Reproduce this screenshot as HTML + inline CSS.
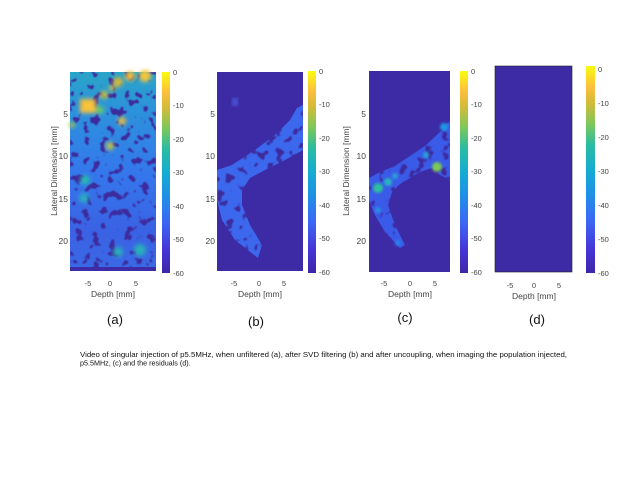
<!DOCTYPE html>
<html><head><meta charset="utf-8"><style>
html,body{margin:0;padding:0;background:#fff;}
svg{display:block;font-family:"Liberation Sans",sans-serif;}
</style></head><body>
<svg width="640" height="480" viewBox="0 0 640 480" xmlns="http://www.w3.org/2000/svg">
<defs>
<linearGradient id="parula" x1="0" y1="1" x2="0" y2="0">
<stop offset="0" stop-color="#3e26a8"/>
<stop offset="0.12" stop-color="#4537d8"/>
<stop offset="0.25" stop-color="#3c66f5"/>
<stop offset="0.38" stop-color="#1f90e6"/>
<stop offset="0.5" stop-color="#15acd2"/>
<stop offset="0.62" stop-color="#2bbca0"/>
<stop offset="0.72" stop-color="#7cc85a"/>
<stop offset="0.82" stop-color="#d2bb3a"/>
<stop offset="0.9" stop-color="#fcbf3c"/>
<stop offset="1" stop-color="#f9fb0e"/>
</linearGradient>
<linearGradient id="ga" x1="0" y1="0" x2="0" y2="1">
<stop offset="0" stop-color="#2aa4c8"/>
<stop offset="0.2" stop-color="#2c92dc"/>
<stop offset="0.5" stop-color="#3478ec"/>
<stop offset="0.8" stop-color="#3a62e4"/>
<stop offset="1" stop-color="#3a6ae6"/>
</linearGradient>
<filter id="veins" x="0" y="0" width="1" height="1" color-interpolation-filters="sRGB">
<feTurbulence type="fractalNoise" baseFrequency="0.12" numOctaves="2" seed="3"/>
<feColorMatrix type="matrix" values="0 0 0 0 0.24  0 0 0 0 0.17  0 0 0 0 0.62  0 0 0 -14 5.8"/>
<feGaussianBlur stdDeviation="0.4"/>
</filter>
<filter id="blur2" color-interpolation-filters="sRGB"><feGaussianBlur stdDeviation="2"/></filter>
<filter id="blur1" color-interpolation-filters="sRGB"><feGaussianBlur stdDeviation="1.2"/></filter>
<clipPath id="cb"><path d="M303 105 L303 150 L285 160 L265 170 L250 178 L242 190 L242 205 L250 225 L262 245 L258 258 L235 240 L222 220 L217 200 L217 170 L232 165 L255 150 L275 135 L290 120 L297 108 Z"/></clipPath>
<clipPath id="cc"><path d="M450 120 L450 180 L440 175 L432 168 L420 172 L410 178 L400 184 L392 192 L388 205 L395 225 L405 245 L400 248 L385 232 L375 215 L369 200 L369 178 L380 172 L395 166 L410 156 L425 146 L440 132 Z"/></clipPath>
</defs>

<!-- Panel a -->
<rect x="70" y="72" width="86" height="199" fill="url(#ga)"/>
<rect x="70" y="72" width="86" height="199" filter="url(#veins)"/>
<g filter="url(#blur2)">
<rect x="80" y="99" width="16" height="14" fill="#f8c23a"/>
<circle cx="104" cy="95" r="4" fill="#c8c040"/>
<circle cx="118" cy="82" r="5" fill="#d6b83a"/>
<circle cx="130" cy="76" r="5" fill="#f0c23a"/>
<circle cx="145" cy="76" r="6" fill="#f5c53a"/>
<circle cx="112" cy="88" r="3" fill="#d0bf40"/>
<circle cx="122" cy="121" r="4" fill="#e8bc3a"/>
<circle cx="110" cy="146" r="4" fill="#c2c244"/>
<circle cx="72" cy="125" r="3" fill="#a8c44c"/>
<circle cx="100" cy="110" r="4" fill="#6cc868"/>
<circle cx="85" cy="180" r="5" fill="#28b8b0"/>
<circle cx="84" cy="198" r="5" fill="#28b0c0"/>
<circle cx="140" cy="250" r="6" fill="#28b0b8"/>
<circle cx="118" cy="252" r="5" fill="#28b0b8"/>
</g>
<rect x="70" y="267" width="86" height="4" fill="#3e2ba8"/>
<rect x="162" y="72" width="8" height="201" fill="url(#parula)"/>
<g font-size="7.5" fill="#444">
<text x="173" y="75">0</text><text x="173" y="108">-10</text><text x="173" y="142">-20</text><text x="173" y="175">-30</text><text x="173" y="209">-40</text><text x="173" y="242">-50</text><text x="173" y="276">-60</text>
</g>
<g font-size="8.5" fill="#444" text-anchor="end">
<text x="68" y="117">5</text><text x="68" y="159">10</text><text x="68" y="202">15</text><text x="68" y="244">20</text>
</g>
<text transform="translate(57,171) rotate(-90)" font-size="8.5" fill="#444" text-anchor="middle">Lateral Dimension [mm]</text>
<g font-size="7.5" fill="#444" text-anchor="middle">
<text x="88" y="286">-5</text><text x="110" y="286">0</text><text x="136" y="286">5</text>
</g>
<text x="113" y="297" font-size="8.5" fill="#444" text-anchor="middle">Depth [mm]</text>

<!-- Panel b -->
<rect x="217" y="72" width="86" height="199" fill="#3d2ba6"/>
<g clip-path="url(#cb)">
<rect x="217" y="100" width="86" height="160" fill="#3c68ee"/>
<rect x="217" y="100" width="86" height="160" filter="url(#veins)"/>
</g>
<rect x="232" y="98" width="6" height="8" fill="#4650d0" filter="url(#blur1)"/>
<rect x="308" y="71" width="8" height="202" fill="url(#parula)"/>
<g font-size="7.5" fill="#444">
<text x="319" y="74">0</text><text x="319" y="107">-10</text><text x="319" y="141">-20</text><text x="319" y="174">-30</text><text x="319" y="208">-40</text><text x="319" y="241">-50</text><text x="319" y="275">-60</text>
</g>
<g font-size="8.5" fill="#444" text-anchor="end">
<text x="215" y="117">5</text><text x="215" y="159">10</text><text x="215" y="202">15</text><text x="215" y="244">20</text>
</g>
<g font-size="7.5" fill="#444" text-anchor="middle">
<text x="234" y="286">-5</text><text x="259" y="286">0</text><text x="284" y="286">5</text>
</g>
<text x="260" y="297" font-size="8.5" fill="#444" text-anchor="middle">Depth [mm]</text>

<!-- Panel c -->
<rect x="369" y="71" width="81" height="201" fill="#3d2ba6"/>
<g clip-path="url(#cc)">
<rect x="369" y="110" width="81" height="150" fill="#3a5ae8"/>
<rect x="369" y="110" width="81" height="150" filter="url(#veins)"/>
</g>
<g filter="url(#blur1)">
<circle cx="378" cy="188" r="5" fill="#2cc0a0"/>
<circle cx="388" cy="182" r="4" fill="#28b4c0"/>
<circle cx="395" cy="176" r="3" fill="#2aa0d8"/>
<circle cx="437" cy="167" r="5" fill="#7cc858"/>
<circle cx="426" cy="155" r="3" fill="#24a8d0"/>
<circle cx="444" cy="127" r="4" fill="#1e98e0"/>
<circle cx="378" cy="210" r="3" fill="#2a90e0"/>
<circle cx="398" cy="243" r="3" fill="#2a80e8"/>
</g>
<rect x="460" y="71" width="8" height="202" fill="url(#parula)"/>
<g font-size="7.5" fill="#444">
<text x="471" y="74">0</text><text x="471" y="107">-10</text><text x="471" y="141">-20</text><text x="471" y="174">-30</text><text x="471" y="208">-40</text><text x="471" y="241">-50</text><text x="471" y="275">-60</text>
</g>
<g font-size="8.5" fill="#444" text-anchor="end">
<text x="366" y="117">5</text><text x="366" y="159">10</text><text x="366" y="202">15</text><text x="366" y="244">20</text>
</g>
<text transform="translate(349,171) rotate(-90)" font-size="8.5" fill="#444" text-anchor="middle">Lateral Dimension [mm]</text>
<g font-size="7.5" fill="#444" text-anchor="middle">
<text x="384" y="286">-5</text><text x="410" y="286">0</text><text x="435" y="286">5</text>
</g>
<text x="410" y="297" font-size="8.5" fill="#444" text-anchor="middle">Depth [mm]</text>

<!-- Panel d -->
<rect x="495" y="66" width="77" height="206" fill="#3d2ba6" stroke="#222" stroke-width="0.6"/>
<rect x="586" y="66" width="9" height="207" fill="url(#parula)"/>
<g font-size="7.5" fill="#444">
<text x="598" y="72">0</text><text x="598" y="106">-10</text><text x="598" y="140">-20</text><text x="598" y="174">-30</text><text x="598" y="208">-40</text><text x="598" y="242">-50</text><text x="598" y="276">-60</text>
</g>
<g font-size="7.5" fill="#444" text-anchor="middle">
<text x="510" y="288">-5</text><text x="534" y="288">0</text><text x="559" y="288">5</text>
</g>
<text x="534" y="299" font-size="8.5" fill="#444" text-anchor="middle">Depth [mm]</text>

<!-- captions -->
<g font-size="13" fill="#111" text-anchor="middle">
<text x="115" y="324">(a)</text><text x="256" y="326">(b)</text><text x="405" y="322">(c)</text><text x="537" y="324">(d)</text>
</g>
<g font-size="7.2" fill="#111">
<text x="80" y="357" textLength="487" lengthAdjust="spacingAndGlyphs">Video of singular injection of p5.5MHz, when unfiltered (a), after SVD filtering (b) and after uncoupling, when imaging the population injected,</text>
<text x="80" y="365.5">p5.5MHz, (c) and the residuals (d).</text>
</g>
</svg>
</body></html>
